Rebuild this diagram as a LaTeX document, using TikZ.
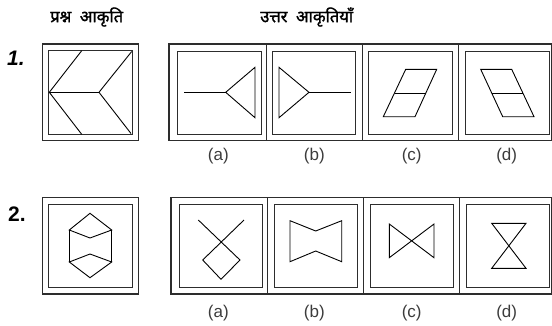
\documentclass[tikz,border=0pt]{standalone}
\usepackage{fontspec}
\setmainfont{Liberation Sans}
\newfontfamily\deva[Script=Devanagari,FakeBold=1.6]{Noto Sans}
\definecolor{frame}{RGB}{45,45,45}
\definecolor{lbl}{RGB}{60,60,60}
\tikzset{
  outerbox/.style={draw=frame,line width=1.1pt},
  innerbox/.style={draw=frame,line width=1.0pt},
  fig/.style={draw=black,line width=0.9pt,line join=miter},
  midline/.style={draw=black,line width=1.6pt},
  optlabel/.style={text=lbl,font=\fontsize{17}{19}\selectfont,inner sep=0pt},
  qnum/.style={font=\fontsize{21}{23}\selectfont\bfseries,inner sep=0pt},
  head/.style={font=\deva\fontsize{16.5}{19}\selectfont,inner sep=0pt}
}
\begin{document}
\begin{tikzpicture}[x=1pt,y=-1pt]
\useasboundingbox (0,0) rectangle (552,325);
% headers
\node[head] (h1) at (86.7,17) {प्रश्न\ \ आकृति};
\node[head] (h2) at (306.7,17) {उत्तर\ \ आकृतियाँ};
\node[qnum,font=\fontsize{21}{23}\selectfont\bfseries\itshape] (n1) at (16,58) {1.};
\node[qnum] (n2) at (17,214) {2.};
% ---------- Row 1 ----------
\draw[outerbox] (42.3,44) rectangle (138.3,140.7);
\draw[innerbox] (48.7,50.7) rectangle (132.3,134.3);
\draw[fig] (81.7,50.7) -- (49.3,92.3) -- (81.7,134.3);
\draw[fig] (49.3,92.3) -- (99,92.3);
\draw[fig] (131.7,51.5) -- (99,92.3) -- (131,133.5);
\draw[outerbox] (169,44) rectangle (552,140.7);
\draw[outerbox] (266.7,44) -- (266.7,140.7);
\draw[outerbox] (362.3,44) -- (362.3,140.7);
\draw[outerbox] (458.3,44) -- (458.3,140.7);
\draw[innerbox] (177.3,51.7) rectangle (261.7,134.3);
\draw[innerbox] (272.7,51.7) rectangle (355.3,134.3);
\draw[innerbox] (368.3,51.7) rectangle (452.3,134.3);
\draw[innerbox] (465,51.7) rectangle (549,134.3);
% (a)
\draw[fig] (184,92.3) -- (225.7,92.3);
\draw[fig] (225.7,92.3) -- (255,67.3) -- (255,117.7) -- cycle;
% (b)
\draw[fig] (279,67.3) -- (309,92.3) -- (279,117.7) -- cycle;
\draw[fig] (309,92.3) -- (350.7,92.3);
% (c)
\draw[fig] (405.7,69.3) -- (436.7,69.3) -- (415,116.7) -- (383.3,116.7) -- cycle;
\draw[midline] (394.5,93.3) -- (425.8,93.3);
% (d)
\draw[fig] (480.7,69.3) -- (511.7,69.3) -- (534,116.7) -- (502.7,116.7) -- cycle;
\draw[midline] (491.7,93.3) -- (523.3,93.3);
\node[optlabel] (la1) at (218.3,156) {(a)};
\node[optlabel] (lb1) at (314.3,156) {(b)};
\node[optlabel] (lc1) at (411.7,156) {(c)};
\node[optlabel] (ld1) at (506.7,156) {(d)};
% ---------- Row 2 ----------
\draw[outerbox] (42.3,197.7) rectangle (138.3,294);
\draw[innerbox] (48.7,204) rectangle (132,287.7);
\draw[fig] (90,213.3) -- (69.3,230) -- (90,238) -- (111.7,230) -- cycle;
\draw[fig] (69.3,230) -- (69.3,262);
\draw[fig] (111.7,230) -- (111.7,262);
\draw[fig] (90,254) -- (69.3,262) -- (90,277.7) -- (111.7,262) -- cycle;
\draw[outerbox] (171,197.7) rectangle (552,294);
\draw[outerbox] (267.3,197.7) -- (267.3,294);
\draw[outerbox] (363.3,197.7) -- (363.3,294);
\draw[outerbox] (459.3,197.7) -- (459.3,294);
\draw[innerbox] (179,204) rectangle (262.3,287.7);
\draw[innerbox] (274,204) rectangle (357.7,287.7);
\draw[innerbox] (370,204) rectangle (453.3,287.7);
\draw[innerbox] (466.7,204) rectangle (549.3,287.7);
% (a)
\draw[fig] (198.3,220) -- (240,260) -- (221,279.3) -- (202.7,260) -- (244,220);
% (b)
\draw[fig] (290,220.7) -- (315.7,231) -- (341.7,220.7) -- (341.7,261.7) -- (315.7,251) -- (290,261.7) -- cycle;
% (c)
\draw[fig] (389.3,224) -- (434,257.7) -- (434,224) -- (389.3,257.7) -- cycle;
% (d)
\draw[fig] (491.7,223.3) -- (526,223.3) -- (491.7,268.3) -- (526,268.3) -- cycle;
\node[optlabel] (la2) at (218.3,313) {(a)};
\node[optlabel] (lb2) at (314.3,313) {(b)};
\node[optlabel] (lc2) at (411.7,313) {(c)};
\node[optlabel] (ld2) at (506.7,313) {(d)};
\end{tikzpicture}
\end{document}
